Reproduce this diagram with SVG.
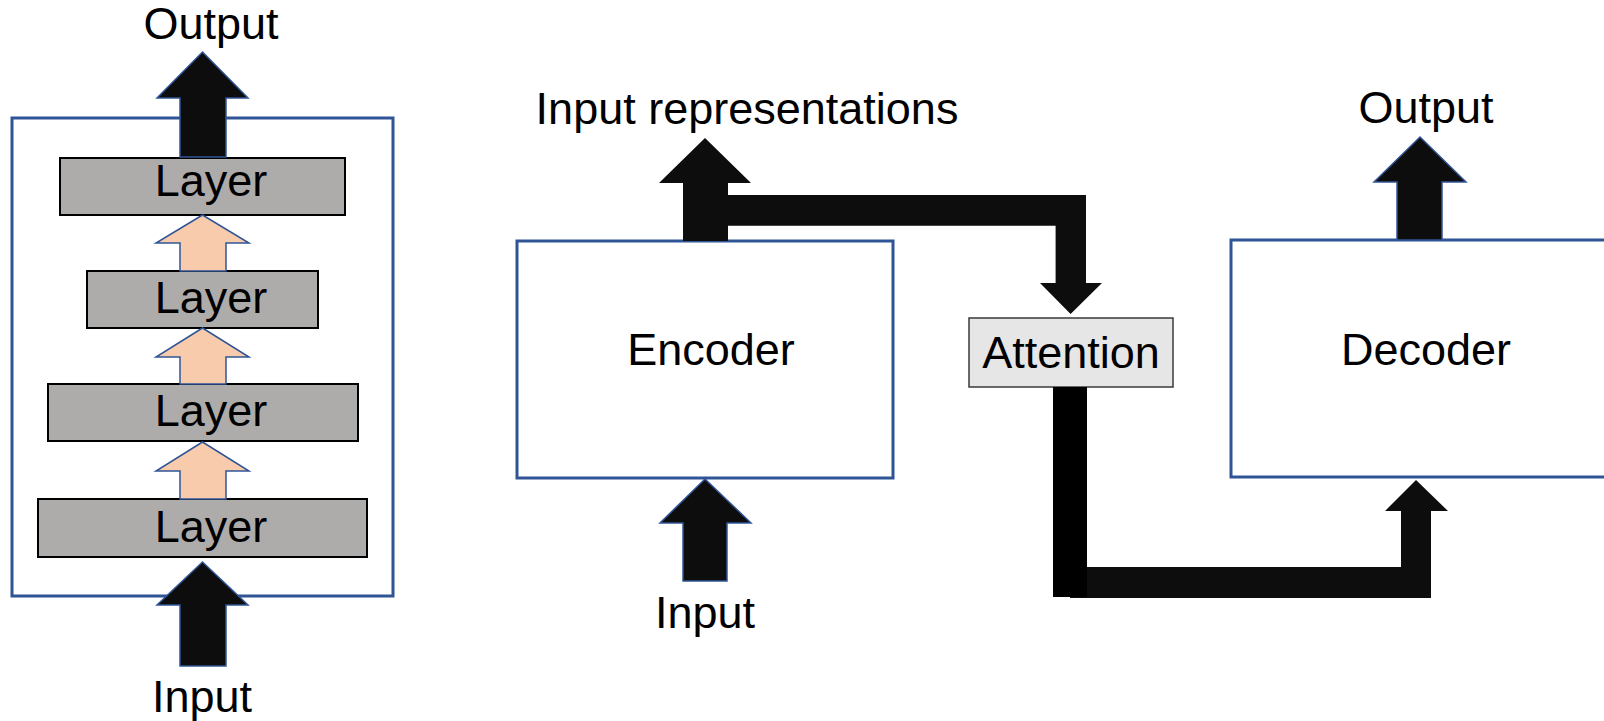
<svg xmlns="http://www.w3.org/2000/svg" width="1604" height="721" viewBox="0 0 1604 721">
<style>
text{font-family:"Liberation Sans",Arial,sans-serif;font-size:45px;fill:#000}
.box{fill:#fff;stroke:#2F5597;stroke-width:3}
.layer{fill:#AEABAB;stroke:#000;stroke-width:2}
.blk{fill:#0D0D0D;stroke:#2F5597;stroke-width:1.5;stroke-linejoin:miter}
.blk0{fill:#0D0D0D}
.peach{fill:#F8CBAD;stroke:#2F5597;stroke-width:1.5}
.att{fill:#E7E6E6;stroke:#3A3A3A;stroke-width:1.5}
</style>
<rect width="1604" height="721" fill="#fff"/>
<g id="stack">
<rect class="box" x="12" y="118" width="381" height="478"/>
</g>
<g id="layer1"><rect class="layer" x="60" y="158" width="285" height="57"/><text x="211" y="196" text-anchor="middle">Layer</text></g>
<g id="layer2"><rect class="layer" x="87" y="271" width="231" height="57"/><text x="211" y="313" text-anchor="middle">Layer</text></g>
<g id="layer3"><rect class="layer" x="48" y="384" width="310" height="57"/><text x="211" y="426" text-anchor="middle">Layer</text></g>
<g id="layer4"><rect class="layer" x="38" y="499" width="329" height="58"/><text x="211" y="542" text-anchor="middle">Layer</text></g>
<g id="encoder"><rect class="box" x="517" y="241" width="376" height="237"/><text x="711" y="365" text-anchor="middle">Encoder</text></g>
<g id="decoder"><rect class="box" x="1231" y="240" width="400" height="237"/><text x="1426" y="365" text-anchor="middle">Decoder</text></g>
<g id="attention"><rect class="att" x="969" y="318" width="204" height="69"/><text x="1071" y="368" text-anchor="middle">Attention</text></g>
<g id="labels">
<text x="211" y="39" text-anchor="middle">Output</text>
<text x="202" y="712" text-anchor="middle">Input</text>
<text x="747" y="124" text-anchor="middle">Input representations</text>
<text x="705" y="628" text-anchor="middle">Input</text>
<text x="1426" y="123" text-anchor="middle">Output</text>
</g>
<g id="connectors">
<polygon class="blk" points="202.5,52 248,98 226,98 226,157 180,157 180,98 157,98"/>
<polygon class="peach" points="202.5,215 249,243 226,243 226,271 180,271 180,243 156,243"/>
<polygon class="peach" points="202.5,328 249,357 226,357 226,384 180,384 180,357 156,357"/>
<polygon class="peach" points="202.5,442 249,471 226,471 226,499 180,499 180,471 156,471"/>
<polygon class="blk" points="202.5,562 248,605 226,605 226,666 180,666 180,605 157,605"/>
<polygon class="blk0" points="700,195 1086,195 1086,283 1102,283 1070.6,314 1040,283 1055.6,283 1055.6,225.7 700,225.7"/>
<polygon class="blk0" points="705,138 751,183 728,183 728,241 683,241 683,183 659,183"/>
<polygon class="blk" points="705,479 751,523 727,523 727,581 683,581 683,523 660,523"/>
<polygon class="blk" points="1420,137 1466,182 1442,182 1442,240 1397,240 1397,182 1374,182"/>
<polygon class="blk0" points="1070,567 1401,567 1401,511 1385,511 1416,480 1448,511 1431,511 1431,598 1070,598"/>
<rect x="1053" y="387" width="34" height="210" fill="#000"/>
</g>
</svg>
